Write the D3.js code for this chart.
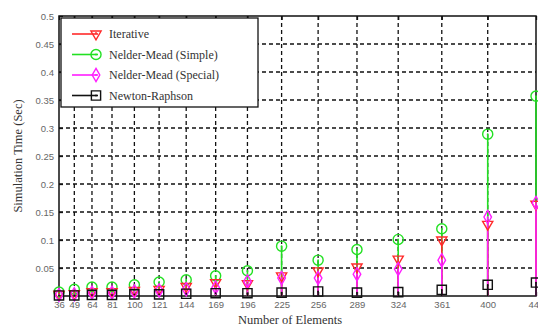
<!DOCTYPE html>
<html>
<head>
<meta charset="utf-8">
<script src="https://cdn.jsdelivr.net/npm/d3@7"></script>
<style>
  html, body { margin: 0; padding: 0; background: #fff; }
</style>
</head>
<body>
<div id="chart"></div>
<script>
// Number of elements (x ticks)
const elements = [36, 49, 64, 81, 100, 121, 144, 169, 196, 225, 256, 289, 324, 361, 400, 441];

// Simulation times (sec) per method
const iterative = [0.003, 0.004, 0.008, 0.008, 0.010, 0.012, 0.017, 0.024, 0.022, 0.036, 0.045, 0.052, 0.066, 0.100, 0.128, 0.164];
const nmSimple  = [0.007, 0.012, 0.016, 0.016, 0.020, 0.025, 0.029, 0.036, 0.045, 0.089, 0.064, 0.083, 0.101, 0.120, 0.289, 0.357];
const nmSpecial = [0.002, 0.003, 0.006, 0.006, 0.008, 0.010, 0.012, 0.015, 0.026, 0.032, 0.032, 0.039, 0.048, 0.064, 0.141, 0.166];
const newton    = [0.001, 0.001, 0.002, 0.002, 0.003, 0.003, 0.004, 0.005, 0.005, 0.006, 0.008, 0.006, 0.007, 0.011, 0.020, 0.024];

const yTicks = [0.05, 0.1, 0.15, 0.2, 0.25, 0.3, 0.35, 0.4, 0.45, 0.5];

const series = [
  { name: "Iterative", values: iterative, color: "#ff2a2a", marker: "triangle" },
  { name: "Nelder-Mead (Simple)", values: nmSimple, color: "#22e022", marker: "circle" },
  { name: "Nelder-Mead (Special)", values: nmSpecial, color: "#ff1eff", marker: "diamond" },
  { name: "Newton-Raphson", values: newton, color: "#111", marker: "square" }
];
// stem drawing order (back to front)
const drawOrder = [1, 0, 2, 3];

const W = 538, H = 326;
const margin = { top: 16, right: 2, bottom: 30, left: 59 };

const svg = d3.select("#chart").append("svg")
  .attr("width", W).attr("height", H);

const x = d3.scaleLinear().domain([36, 441]).range([margin.left, W - margin.right]);
const y = d3.scaleLinear().domain([0, 0.5]).range([H - margin.bottom, margin.top]);

const plotTop = y(0.5), plotBottom = y(0), plotLeft = x(36), plotRight = x(441);

// grid
const grid = svg.append("g").attr("stroke", "#111").attr("stroke-width", 1.3).attr("stroke-dasharray", "4,3");
grid.selectAll(".vg").data(elements.slice(1, -1)).enter().append("line")
  .attr("x1", d => x(d)).attr("x2", d => x(d))
  .attr("y1", plotTop).attr("y2", plotBottom);
grid.selectAll(".hg").data(yTicks.slice(0, -1)).enter().append("line")
  .attr("x1", plotLeft).attr("x2", plotRight)
  .attr("y1", d => y(d)).attr("y2", d => y(d));

// axes
const xAxis = svg.append("g")
  .attr("transform", `translate(0,${plotBottom})`)
  .call(d3.axisBottom(x).tickValues(elements).tickSize(-4).tickPadding(5));
const yAxis = svg.append("g")
  .attr("transform", `translate(${plotLeft},0)`)
  .call(d3.axisLeft(y).tickValues(yTicks).tickSize(-4).tickPadding(5).tickFormat(d => d3.format("")(+d.toFixed(2))));
const xTop = svg.append("g")
  .attr("transform", `translate(0,${plotTop})`)
  .call(d3.axisTop(x).tickValues(elements).tickSize(-4).tickFormat(""));

[xAxis, yAxis, xTop].forEach(a => {
  a.select(".domain").remove();
  a.selectAll("line").attr("stroke", "#111").attr("stroke-width", 1.3);
  a.selectAll("text").attr("font-family", "Arial, 'Liberation Sans', sans-serif")
    .attr("font-size", "9.5px").attr("fill", "#666");
});

// frame
svg.append("rect")
  .attr("x", plotLeft).attr("y", plotTop)
  .attr("width", plotRight - plotLeft).attr("height", plotBottom - plotTop)
  .attr("fill", "none").attr("stroke", "#111").attr("stroke-width", 1.5);

// stems
drawOrder.forEach(i => {
  const s = series[i];
  svg.append("g").selectAll("line").data(s.values).enter().append("line")
    .attr("x1", (d, j) => x(elements[j])).attr("x2", (d, j) => x(elements[j]))
    .attr("y1", y(0)).attr("y2", d => y(d))
    .attr("stroke", s.color).attr("stroke-width", 1.6);
});

// markers
const symbolPath = {
  triangle: d3.symbol().type(d3.symbolTriangle).size(45),
  circle: d3.symbol().type(d3.symbolCircle).size(80),
  diamond: d3.symbol().type(d3.symbolDiamond).size(50),
  square: d3.symbol().type(d3.symbolSquare).size(85)
};
function drawMarker(g, type, cx, cy, color) {
  const t = type === "triangle" ? `translate(${cx},${cy}) rotate(180)` : `translate(${cx},${cy})`;
  g.append("path").attr("d", symbolPath[type]()).attr("transform", t)
    .attr("fill", "none").attr("stroke", color).attr("stroke-width", 1.4);
  // small center dot like the original
  g.append("circle").attr("cx", cx).attr("cy", cy + (type === "triangle" ? -1 : 0)).attr("r", 0.9).attr("fill", color);
}
drawOrder.forEach(i => {
  const s = series[i];
  const g = svg.append("g");
  s.values.forEach((v, j) => drawMarker(g, s.marker, x(elements[j]), y(v), s.color));
});

// legend
const legend = svg.append("g");
legend.append("rect")
  .attr("x", 61).attr("y", 18).attr("width", 197).attr("height", 89)
  .attr("fill", "#fff").attr("stroke", "#111").attr("stroke-width", 1.3);
series.forEach((s, i) => {
  const ly = 34 + i * 20.5;
  legend.append("line").attr("x1", 72).attr("x2", 98).attr("y1", ly).attr("y2", ly)
    .attr("stroke", s.color).attr("stroke-width", 1.6);
  drawMarker(legend, s.marker, 96, ly, s.color);
  legend.append("text")
    .attr("x", 109).attr("y", ly + 4)
    .attr("font-family", "'Liberation Serif', 'Times New Roman', serif")
    .attr("font-size", "12px").attr("fill", "#333")
    .text(s.name);
});

// axis labels
svg.append("text")
  .attr("transform", "rotate(-90)")
  .attr("x", -(plotTop + plotBottom) / 2).attr("y", 22)
  .attr("text-anchor", "middle")
  .attr("font-family", "'Liberation Serif', 'Times New Roman', serif")
  .attr("font-size", "12.5px").attr("fill", "#333")
  .text("Simulation Time (Sec)");
svg.append("text")
  .attr("x", 290).attr("y", 324)
  .attr("text-anchor", "middle")
  .attr("font-family", "'Liberation Serif', 'Times New Roman', serif")
  .attr("font-size", "12.5px").attr("fill", "#333")
  .text("Number of Elements");
</script>
</body>
</html>
